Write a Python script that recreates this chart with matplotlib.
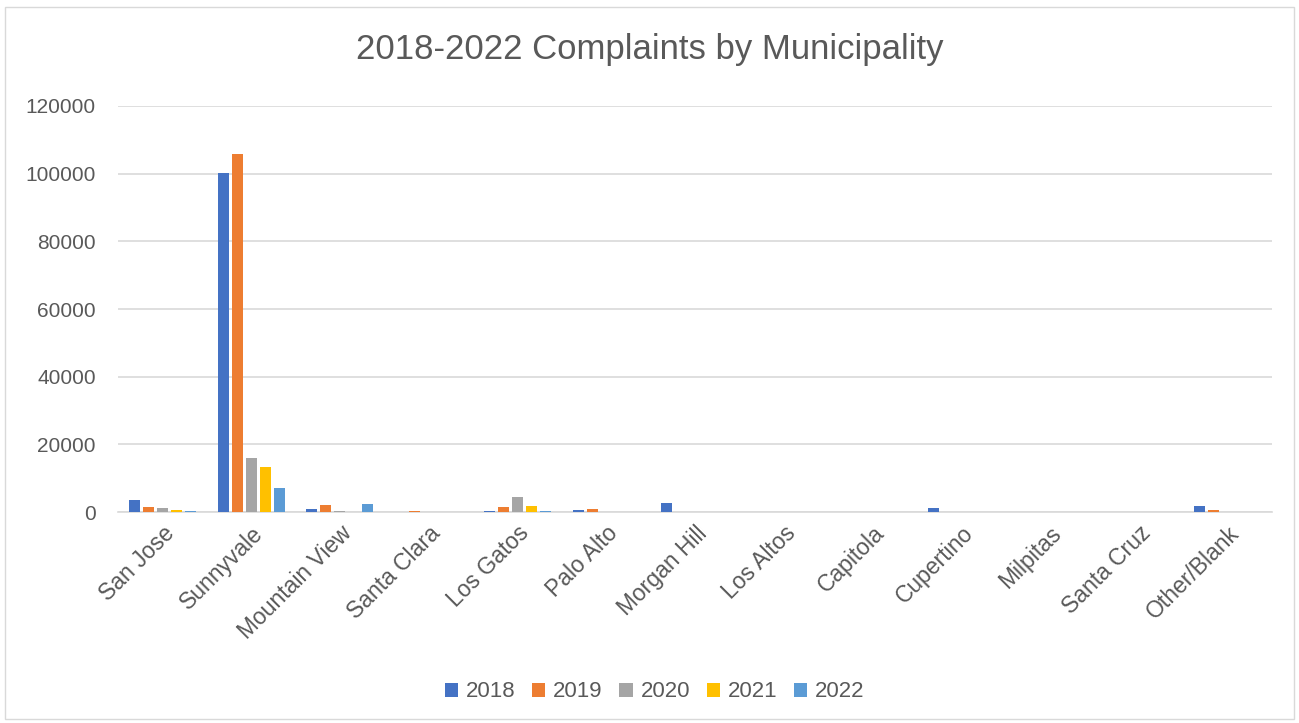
import matplotlib.pyplot as plt
import matplotlib.patches as mpatches
import numpy as np

plt.rcParams['font.family'] = ['Liberation Sans', 'DejaVu Sans']

# municipalities and complaint counts per year
cities = ["San Jose", "Sunnyvale", "Mountain View", "Santa Clara", "Los Gatos",
          "Palo Alto", "Morgan Hill", "Los Altos", "Capitola", "Cupertino",
          "Milpitas", "Santa Cruz", "Other/Blank"]
years = ["2018", "2019", "2020", "2021", "2022"]
c2018 = [3550, 100300, 1000, 150, 450, 500, 2750, 0, 0, 1300, 0, 0, 1800]
c2019 = [1500, 105900, 2150, 350, 1400, 1000, 100, 0, 0, 0, 0, 0, 600]
c2020 = [1100, 16000, 400, 0, 4500, 0, 0, 0, 0, 0, 0, 0, 100]
c2021 = [700, 13300, 0, 0, 1800, 0, 0, 0, 0, 0, 0, 0, 0]
c2022 = [400, 7200, 2350, 0, 300, 0, 0, 0, 0, 0, 0, 0, 0]
series = [c2018, c2019, c2020, c2021, c2022]
colors = ['#4472C4', '#ED7D31', '#A5A5A5', '#FFC000', '#5B9BD5']

fig = plt.figure(figsize=(12.99, 7.23), dpi=100)
ax = fig.add_axes([0.0908, 0.2918, 0.8884, 0.5616])

x = np.arange(len(cities))
step = 0.158
width = 0.125
for i, (vals, col) in enumerate(zip(series, colors)):
    ax.bar(x + (i - 2) * step, vals, width, color=col, label=years[i], zorder=3)

ax.set_xlim(-0.5, len(cities) - 0.5)
ax.set_ylim(0, 120000)
ax.set_yticks(np.arange(0, 120001, 20000))
ax.yaxis.grid(True, color='#D9D9D9', linewidth=1.2, zorder=0)
for s in ['top', 'right', 'left']:
    ax.spines[s].set_visible(False)
ax.spines['bottom'].set_color('#D9D9D9')
ax.spines['bottom'].set_linewidth(1.2)
ax.tick_params(axis='both', length=0, colors='#595959')
ax.tick_params(axis='y', pad=16, labelsize=15)
ax.set_xticks(x)
ax.set_xticklabels(cities, rotation=45, ha='right', rotation_mode='anchor',
                   fontsize=16.5)
ax.tick_params(axis='x', pad=7)

fig.suptitle("2018-2022 Complaints by Municipality", y=0.955, fontsize=25,
             color='#595959')

fig.legend(loc='center', bbox_to_anchor=(0.504, 0.043), ncol=5, frameon=False,
           fontsize=16, labelcolor='#595959', handlelength=0.6, handleheight=0.6,
           handletextpad=0.35, columnspacing=0.75)

# chart border
fig.patches.append(mpatches.Rectangle((0.004, 0.006), 0.992, 0.984,
                                      transform=fig.transFigure, fill=False,
                                      edgecolor='#D9D9D9', linewidth=1))

fig.savefig("out.png", dpi=100)
